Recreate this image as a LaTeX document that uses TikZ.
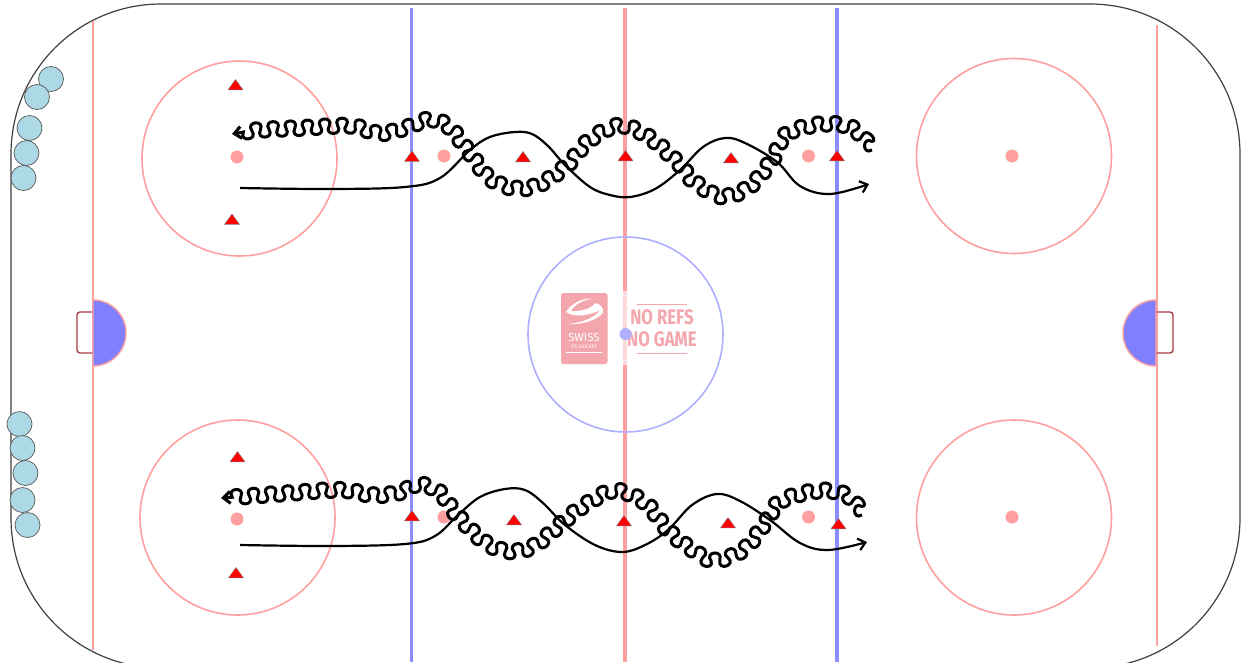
\documentclass[tikz,border=0pt]{standalone}
\usepackage{fontspec}
\setmainfont{Fira Sans}
\usepackage{tikz}
\usetikzlibrary{shapes.geometric,arrows.meta,decorations.pathreplacing}
\usepackage{xcolor}
\definecolor{rinkred}{RGB}{255,160,160}
\definecolor{rinkblue}{RGB}{140,140,255}
\definecolor{circleblue}{RGB}{175,175,255}
\definecolor{creaseblue}{RGB}{128,128,255}
\definecolor{netred}{RGB}{170,60,70}
\definecolor{playerblue}{RGB}{173,216,230}
\definecolor{logopink}{RGB}{244,166,173}

% chain of small arcs, one up and one down
\pgfdeclaredecoration{chainlink}{up}{
  \state{up}[width=8.6pt,next state=down,switch if less than=8.6pt to final]{
    \pgfpathcurveto{\pgfpoint{-5.6pt}{10pt}}{\pgfpoint{14.2pt}{10pt}}{\pgfpoint{8.6pt}{0pt}}
  }
  \state{down}[width=8.6pt,next state=up,switch if less than=8.6pt to final]{
    \pgfpathcurveto{\pgfpoint{-5.6pt}{-10pt}}{\pgfpoint{14.2pt}{-10pt}}{\pgfpoint{8.6pt}{0pt}}
  }
  \state{final}{\pgfpathlineto{\pgfpointdecoratedpathlast}}
}

\begin{document}
\begin{tikzpicture}[
    x=1pt, y=-1pt,
    >={Straight Barb[length=7pt,width=12pt]},
    faceoff/.style={circle, draw=rinkred, line width=1.6pt, minimum size=195pt, inner sep=0pt},
    spot/.style={circle, fill=rinkred, inner sep=0pt, minimum size=13pt},
    cone/.style={isosceles triangle, shape border rotate=90, isosceles triangle apex angle=72,
        fill=red, draw=gray, line width=0.4pt, inner sep=0pt, minimum height=10pt, minimum width=15pt},
    player/.style={circle, fill=playerblue, draw=black!65, line width=0.7pt, inner sep=0pt, minimum size=25pt},
    skate/.style={line width=2.2pt, black},
    puckline/.style={line width=3pt, black, decorate,
        decoration={chainlink, post=lineto, post length=10pt}},
    logotext/.style={text=logopink, font=\fontsize{21}{21}\selectfont\bfseries, inner sep=0pt, xscale=0.8}
]
\useasboundingbox (0,0) rectangle (1245,662);
\fill[white] (0,0) rectangle (1245,662);
\begin{scope}
\clip (0,0) rectangle (1245,662);

% Boards
\draw[black!75, line width=1.2pt, rounded corners=150pt] (11,4) rectangle (1240,668);

% Goal lines
\draw[rinkred, line width=2.2pt] (93,21) -- (93,650);
\draw[rinkred, line width=2.2pt] (1157,25) -- (1157,646);

% Blue lines and centre line
\draw[rinkblue, line width=3.2pt] (411.5,8) -- (411.5,662);
\draw[rinkblue, line width=3.2pt] (837,8) -- (837,662);
\draw[rinkred, line width=3.2pt] (625,8) -- (625,662);

% Creases and nets
\draw[netred, line width=1.4pt, rounded corners=3pt] (93,312) -- (77,312) -- (77,353) -- (93,353);
\draw[netred, line width=1.4pt, rounded corners=3pt] (1156,312) -- (1173,312) -- (1173,353) -- (1156,353);
\draw[rinkred, fill=creaseblue, line width=1.4pt] (93,366) arc (90:-90:33) -- cycle;
\draw[rinkred, fill=creaseblue, line width=1.4pt] (1156,366) arc (90:270:33) -- cycle;

% Faceoff circles
\node[faceoff] (circleTL) at (239.5,158.5) {};
\node[faceoff] (circleTR) at (1014,156) {};
\node[faceoff] (circleBL) at (237.5,517.5) {};
\node[faceoff] (circleBR) at (1014,517.5) {};
\node[faceoff, draw=circleblue] (circleC) at (625.5,334.5) {};

% Logo
\fill[white, opacity=0.6] (553,291) rectangle (696,365);
\fill[logopink, rounded corners=2.5pt] (561,293) rectangle (607.5,364);
\fill[white] (566,312) .. controls (572,302) and (586,297) .. (593,299)
    .. controls (584,299) and (574,305) .. (571,311) .. controls (580,312) and (593,308) .. (595,303)
    .. controls (600,304) and (604,308) .. (603,312) .. controls (601,318) and (585,325) .. (568,324)
    .. controls (582,323) and (596,317) .. (600,310) .. controls (594,314) and (574,319) .. (566,312) -- cycle;
\node[text=white, font=\fontsize{11.5}{11.5}\selectfont, inner sep=0pt] (logoA) at (584,338) {SWISS};
\node[text=white, font=\fontsize{5}{5}\selectfont, inner sep=0pt] (logoB) at (584,346.5) {ICE HOCKEY};
\draw[white, line width=0.5pt] (566,352.5) -- (602,352.5);
\node[logotext] (refs) at (662,317.5) {NO REFS};
\node[logotext] (game) at (662,339.5) {NO GAME};
\draw[logopink, line width=0.7pt] (637,304) -- (687,304);
\draw[logopink, line width=0.7pt] (637,353) -- (687,353);
\fill[circleblue] (625.5,334) circle (6);

% Faceoff spots
\foreach \x/\y/\n in {237/157/a,444/156/b,808.5/156/c,1012/156/d,237/519/e,444/517/f,808.5/517/g,1012/517/h}
    \node[spot] (spot\n) at (\x,\y) {};

% Cones
\foreach \x/\y/\n in {235.5/86/a,232/220.5/b,412/157.5/c,523/158/d,625.5/157/e,731/159/f,837/157/g,
    237.5/458/h,236/574/i,412/517/j,514/521/k,624/522/l,728/524/m,838.5/525/n}
    \node[cone] (cone\n) at (\x,\y) {};

% Players
\foreach \x/\y/\n in {51/79/a,37/97/b,29.5/128/c,26.5/153/d,23.5/178/e,
    19.5/424/f,22.5/448/g,25.5/473/h,22.5/500/i,27.5/525/j}
    \node[player] (player\n) at (\x,\y) {};

% Skating paths
\draw[skate, ->] plot[smooth, tension=0.6] coordinates {(240,188) (330,189) (405,187) (440,178) (470,150) (490,137) (515,132)
    (532,134) (548,146) (565,165) (590,187) (610,195) (630,197) (655,189) (680,170) (703,147) (725,138) (745,143) (777,162)
    (800,186) (830,194) (869,184)};
\draw[skate, ->] plot[smooth, tension=0.6] coordinates {(240,545) (330,546) (405,544) (435,536) (458,515) (480,497) (505,489)
    (525,490) (543,503) (565,525) (595,545) (622,552) (645,545) (668,530) (692,505) (717,494) (740,501) (770,520) (800,543)
    (828,550) (867,542)};

% Puck carrying paths
\draw[puckline, ->] plot[smooth, tension=0.6] coordinates {(872,150) (855,130) (832,124) (805,127) (785,136) (773,158)
    (750,186) (722,196) (695,182) (680,165) (650,138) (620,126) (590,140) (567,165) (540,184) (515,188) (490,178) (469,152)
    (450,128) (430,120) (405,128) (380,133) (350,126) (300,128) (260,130) (232,134)};
\draw[puckline, ->] plot[smooth, tension=0.6] coordinates {(862,515) (850,498) (830,491) (805,493) (780,502) (767,520)
    (745,548) (715,560) (690,548) (668,530) (645,503) (615,491) (585,505) (563,522) (535,545) (510,551) (485,542) (458,516)
    (440,493) (420,485) (400,492) (375,495) (340,490) (290,493) (250,496) (221,498)};
\end{scope}
\end{tikzpicture}
\end{document}
